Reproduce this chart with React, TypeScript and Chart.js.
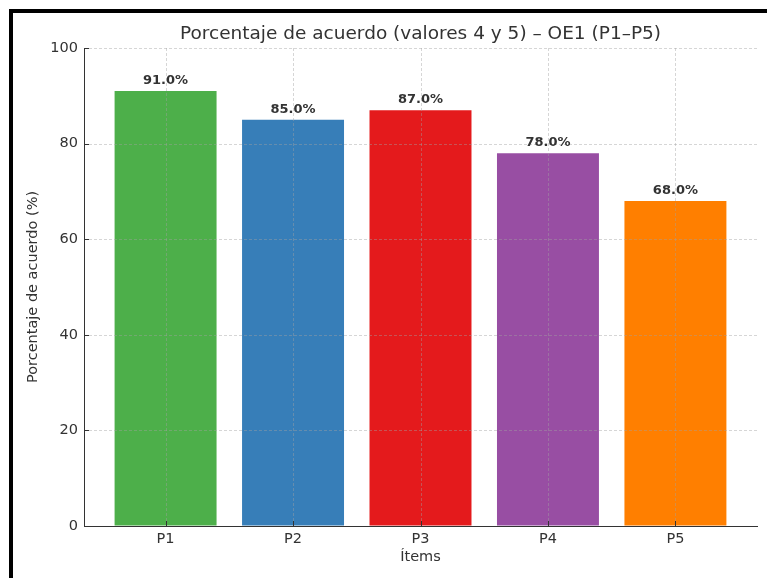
import { useEffect, useRef } from 'react';
import { Chart, registerables } from 'chart.js';

Chart.register(...registerables);

const categories = ['P1', 'P2', 'P3', 'P4', 'P5'];
const values = [91, 85, 87, 78, 68];
const barColors = ['#4daf4a', '#377eb8', '#e41a1c', '#984ea3', '#ff7f00'];
const yTicks = [0, 20, 40, 60, 80, 100];
const chartTitle = 'Porcentaje de acuerdo (valores 4 y 5) – OE1 (P1–P5)';
const xTitle = 'Ítems';
const yTitle = 'Porcentaje de acuerdo (%)';

const FONT = "'DejaVu Sans', sans-serif";
const TEXT = '#333333';

const overlayPlugin = {
  id: 'overlay',
  afterDatasetsDraw(chart: any) {
    const { ctx, chartArea, scales } = chart;
    const xs = scales.x;
    const ys = scales.y;
    ctx.save();
    // dashed grid drawn over the bars
    ctx.strokeStyle = 'rgba(160,160,160,0.55)';
    ctx.lineWidth = 0.8;
    ctx.setLineDash([3, 2]);
    yTicks.forEach((t) => {
      if (t === 0) return;
      const y = Math.round(ys.getPixelForValue(t)) + 0.5;
      ctx.beginPath();
      ctx.moveTo(chartArea.left, y);
      ctx.lineTo(chartArea.right, y);
      ctx.stroke();
    });
    categories.forEach((_, i) => {
      const x = Math.round(xs.getPixelForValue(i)) + 0.5;
      ctx.beginPath();
      ctx.moveTo(x, chartArea.top);
      ctx.lineTo(x, chartArea.bottom);
      ctx.stroke();
    });
    ctx.setLineDash([]);
    // inward tick marks
    ctx.strokeStyle = TEXT;
    ctx.lineWidth = 1;
    yTicks.forEach((t) => {
      const y = Math.round(ys.getPixelForValue(t)) + 0.5;
      ctx.beginPath();
      ctx.moveTo(chartArea.left, y);
      ctx.lineTo(chartArea.left + 5, y);
      ctx.stroke();
    });
    categories.forEach((_, i) => {
      const x = Math.round(xs.getPixelForValue(i)) + 0.5;
      ctx.beginPath();
      ctx.moveTo(x, chartArea.bottom);
      ctx.lineTo(x, chartArea.bottom - 5);
      ctx.stroke();
    });
    // value labels
    const meta = chart.getDatasetMeta(0);
    ctx.fillStyle = TEXT;
    ctx.font = `bold 13px ${FONT}`;
    ctx.textAlign = 'center';
    ctx.textBaseline = 'bottom';
    meta.data.forEach((bar: any, i: number) => {
      ctx.fillText(values[i].toFixed(1) + '%', bar.x, bar.y - 4);
    });
    // title centred over the plot area
    ctx.font = `18.5px ${FONT}`;
    ctx.textBaseline = 'middle';
    ctx.fillText(chartTitle, (chartArea.left + chartArea.right) / 2, 21);
    ctx.restore();
  },
};

export default function App() {
  const ref = useRef<HTMLCanvasElement>(null);
  useEffect(() => {
    if (!ref.current) return;
    Chart.defaults.font.family = FONT;
    const chart = new Chart(ref.current, {
      type: 'bar',
      data: {
        datasets: [
          {
            data: values.map((v, i) => ({ x: i, y: v })),
            backgroundColor: barColors,
            borderWidth: 0,
            barPercentage: 0.8,
            categoryPercentage: 1,
          } as any,
        ],
      },
      options: {
        animation: false,
        responsive: false,
        layout: { padding: { top: 35, right: 10, bottom: 0, left: 0 } },
        plugins: { legend: { display: false }, tooltip: { enabled: false }, title: { display: false } },
        scales: {
          x: {
            type: 'linear',
            min: -0.64,
            max: 4.64,
            offset: false,
            afterBuildTicks: (s: any) => {
              s.ticks = categories.map((_, i) => ({ value: i }));
            },
            afterFit: (s: any) => {
              s.height = 52;
            },
            ticks: {
              autoSkip: false,
              maxRotation: 0,
              padding: 5,
              color: TEXT,
              font: { size: 14.5 },
              callback: (v: any) => categories[v] ?? '',
            },
            grid: { offset: false, drawOnChartArea: false, drawTicks: false },
            border: { display: true, color: TEXT, width: 1 },
            title: { display: true, text: xTitle, color: TEXT, font: { size: 14.5 }, padding: { top: 0, bottom: 12 } },
          },
          y: {
            min: 0,
            max: 100,
            afterBuildTicks: (s: any) => {
              s.ticks = yTicks.map((v) => ({ value: v }));
            },
            afterFit: (s: any) => {
              s.width = 71;
            },
            ticks: { color: TEXT, font: { size: 14.5 }, padding: 6 },
            grid: { drawOnChartArea: false, drawTicks: false },
            border: { display: true, color: TEXT, width: 1 },
            title: { display: true, text: yTitle, color: TEXT, font: { size: 14.5 }, padding: { top: 12, bottom: 0 } },
          },
        },
      } as any,
      plugins: [overlayPlugin],
    });
    return () => chart.destroy();
  }, []);
  return (
    <div
      style={{
        position: 'fixed',
        left: 9,
        top: 9,
        borderTop: '4px solid #000',
        borderLeft: '4px solid #000',
        width: 754,
        height: 565,
        background: '#fff',
      }}
    >
      <canvas ref={ref} width={754} height={565} style={{ display: 'block', width: 754, height: 565 }} />
    </div>
  );
}
